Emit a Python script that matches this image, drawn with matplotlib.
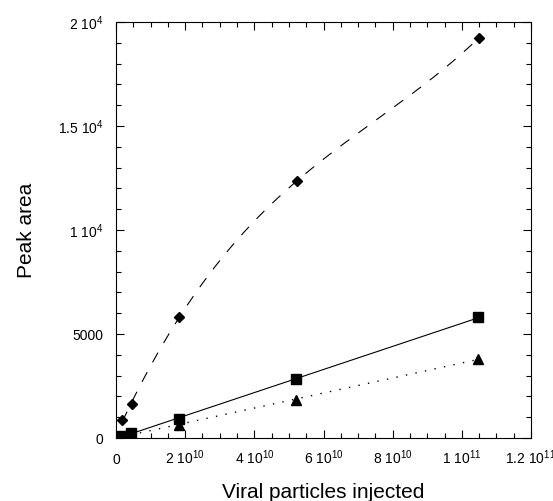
import matplotlib
matplotlib.use("Agg")
import matplotlib.pyplot as plt
import numpy as np
from matplotlib.ticker import FixedLocator, FixedFormatter, MultipleLocator

plt.rcParams['font.family'] = ['Liberation Sans', 'DejaVu Sans']
plt.rcParams['mathtext.fontset'] = 'custom'
plt.rcParams['mathtext.rm'] = 'Liberation Sans'
plt.rcParams['mathtext.it'] = 'Liberation Sans'
plt.rcParams['mathtext.default'] = 'regular'

# viral particles injected
x_diamond = np.array([1.8e9, 4.6e9, 18.3e9, 52.4e9, 105e9])
y_diamond = np.array([865, 1640, 5830, 12370, 19245])

x_square = np.array([1.8e9, 4.4e9, 18.2e9, 52.0e9, 104.7e9])
y_square = np.array([110, 225, 913, 2820, 5800])

x_triangle = np.array([1.8e9, 4.4e9, 18.2e9, 52.0e9, 104.7e9])
y_triangle = np.array([80, 170, 640, 1830, 3800])

xtick_vals = [0, 2e10, 4e10, 6e10, 8e10, 1e11, 1.2e11]
xtick_labels = ['0', r'$2\ 10^{10}$', r'$4\ 10^{10}$', r'$6\ 10^{10}$',
                r'$8\ 10^{10}$', r'$1\ 10^{11}$', r'$1.2\ 10^{11}$']
ytick_vals = [0, 5000, 10000, 15000, 20000]
ytick_labels = ['0', '5000', r'$1\ 10^{4}$', r'$1.5\ 10^{4}$', r'$2\ 10^{4}$']

fig = plt.figure(figsize=(5.53, 5.01), dpi=100)
ax = fig.add_axes([116/553, (501-438)/501, 415/553, 416/501])

# fitted curves
xs = np.linspace(x_diamond[0], x_diamond[-1], 200)
pd_ = np.polyfit(x_diamond / 1e9, y_diamond, 3)
ax.plot(xs, np.polyval(pd_, xs / 1e9), color='black', lw=0.8, dashes=(10, 10))

xl = np.linspace(x_square[1], x_square[-1], 50)
ps = np.polyfit(x_square, y_square, 1)
ax.plot(xl, np.polyval(ps, xl), color='black', lw=0.8)

xt = np.linspace(x_triangle[1] + 2.5e9, x_triangle[-1], 50)
pt = np.polyfit(x_triangle, y_triangle, 1)
ax.plot(xt, np.polyval(pt, xt), color='black', lw=1.0, dashes=(1, 6))

ax.plot(x_diamond, y_diamond, 'D', color='black', ms=5, ls='none')
ax.plot(x_square, y_square, 's', color='black', ms=6.5, ls='none')
ax.plot(x_triangle[2:], y_triangle[2:], '^', color='black', ms=7, ls='none')

ax.set_xlim(0, 1.2e11)
ax.set_ylim(0, 20000)
ax.xaxis.set_major_locator(FixedLocator(xtick_vals))
ax.xaxis.set_major_formatter(FixedFormatter(xtick_labels))
ax.xaxis.set_minor_locator(MultipleLocator(5e9))
ax.yaxis.set_major_locator(FixedLocator(ytick_vals))
ax.yaxis.set_major_formatter(FixedFormatter(ytick_labels))
ax.yaxis.set_minor_locator(MultipleLocator(1000))

ax.tick_params(which='both', direction='in', top=True, right=True, width=0.8, labelsize=10)
ax.tick_params(which='major', length=6)
ax.tick_params(which='minor', length=3.5)
ax.tick_params(axis='x', pad=19)
ax.tick_params(axis='y', pad=9)
for lab in ax.get_xticklabels():
    lab.set_va('baseline')
for s in ax.spines.values():
    s.set_linewidth(0.8)

ax.set_xlabel('Viral particles injected', fontsize=15, labelpad=11)
ax.set_ylabel('Peak area', fontsize=15, labelpad=16)

fig.savefig('out.png', dpi=100)
